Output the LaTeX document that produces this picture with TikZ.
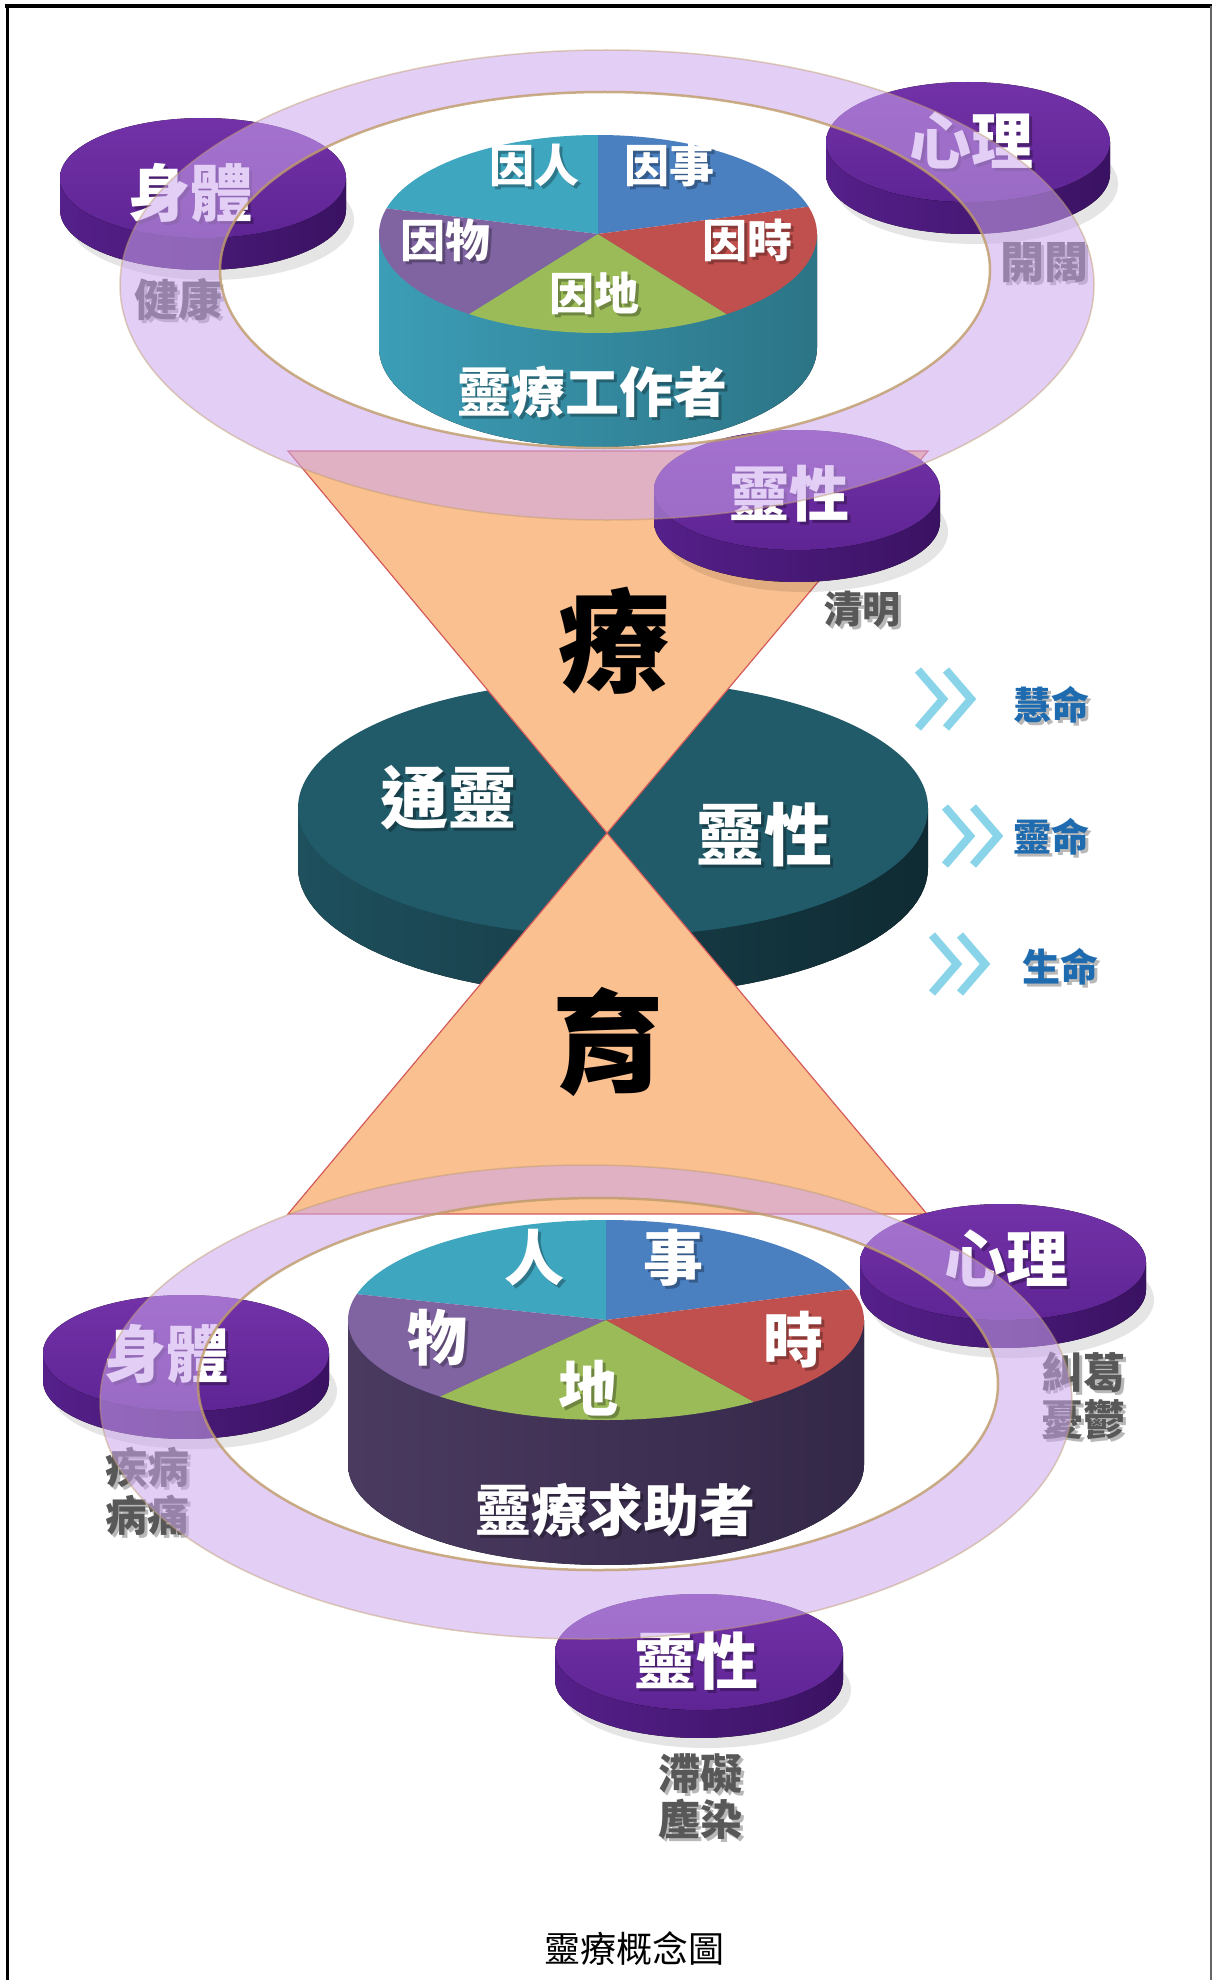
\documentclass[tikz,border=0pt]{standalone}
\usepackage{fontspec}
\newfontfamily\cjk{Noto Sans CJK TC}
\usetikzlibrary{calc}
\definecolor{peach}{HTML}{FAC08F}
\definecolor{hgedge}{HTML}{D55A5A}
\definecolor{ringfill}{HTML}{CCA6EE}
\definecolor{ringedge}{HTML}{BF9B68}
\definecolor{dtopA}{HTML}{7332A8}
\definecolor{dtopB}{HTML}{5E2494}
\definecolor{dsideA}{HTML}{55208A}
\definecolor{dsideB}{HTML}{3A1262}
\definecolor{pAqua}{HTML}{3FA6C0}
\definecolor{pBlue}{HTML}{4A7FC0}
\definecolor{pRed}{HTML}{C0504D}
\definecolor{pGreen}{HTML}{9BBB59}
\definecolor{pPurple}{HTML}{8064A2}
\definecolor{midtop}{HTML}{215A68}
\definecolor{midsideA}{HTML}{1E505D}
\definecolor{midsideB}{HTML}{0F2A32}
\definecolor{graytxt}{HTML}{585858}
\definecolor{bluetxt}{HTML}{1F6BB0}
\definecolor{chevc}{HTML}{89D4E9}
\definecolor{seekA}{HTML}{4A3A60}
\definecolor{seekB}{HTML}{342848}
\tikzset{
  wlab/.style={text=white, inner sep=0pt, font=\cjk\bfseries\fontsize{#1pt}{#1pt}\selectfont},
  glab/.style={text=graytxt, inner sep=0pt, font=\cjk\bfseries\fontsize{#1pt}{#1pt}\selectfont},
  blab/.style={text=bluetxt, inner sep=0pt, font=\cjk\bfseries\fontsize{#1pt}{#1pt}\selectfont},
  klab/.style={text=black, inner sep=0pt, font=\cjk\bfseries\fontsize{#1pt}{#1pt}\selectfont},
  caplab/.style={text=black, inner sep=0pt, font=\cjk\fontsize{#1pt}{#1pt}\selectfont},
  chev/.style={chevc, line width=8pt, miter limit=10},
  hgstyle/.style={fill=peach, draw=hgedge, line width=1.2pt},
  ringstyle/.style={fill=ringfill, fill opacity=0.55, even odd rule},
}
% shadowed text: name, style, size, x, y, text
\newcommand\stext[6]{%
  \node[#2=#3, text=black, opacity=0.28] (#1s) at ({#4+3},{#5+3}) {#6};
  \node[#2=#3] (#1) at (#4,#5) {#6};}
% purple disk: name, cx, cy, a, b, h
\newcommand\pdisk[6]{%
  \coordinate (#1) at (#2,#3);
  \fill[black, opacity=0.10] ({#2+8},{#3+#6+10}) ellipse [x radius=#4, y radius=#5];
  \fill[left color=dsideA, right color=dsideB] ({#2-#4},#3) -- ({#2-#4},{#3+#6})
    -- plot[domain=180:360, samples=50] ({#2+#4*cos(\x)},{#3+#6-#5*sin(\x)})
    -- ({#2+#4},#3) -- cycle;
  \fill[top color=dtopA, bottom color=dtopB] (#2,#3) ellipse [x radius=#4, y radius=#5];}
% pie slice: colour, cx, cy, a, b, t1, t2
\newcommand\pslice[7]{%
  \fill[#1] (#2,#3) -- plot[domain=#6:#7, samples=40] ({#2+#4*cos(\x)},{#3-#5*sin(\x)}) -- cycle;}
\begin{document}
\begin{tikzpicture}[x=1pt,y=-1pt]
\useasboundingbox (0,0) rectangle (1213,1980);
\fill[white] (0,0) rectangle (1213,1980);
% frame
\draw[black, line width=3pt] (7,1980) -- (7,6);
\draw[black, line width=4pt] (5,6) -- (1212,6);
\draw[black!60, line width=2.5pt] (1211,6) -- (1211,1980);

% middle dark disk
\coordinate (mid) at (613,808);
\fill[left color=midsideA, right color=midsideB] (298,808) -- (298,868)
  -- plot[domain=180:360, samples=60] ({613+315*cos(\x)},{868-128*sin(\x)}) -- (928,808) -- cycle;
\fill[midtop] (mid) ellipse [x radius=315, y radius=128];

% hourglass
\coordinate (hgTL) at (288,451);
\coordinate (hgTR) at (928,451);
\coordinate (hgC) at (607,833);
\coordinate (hgBL) at (288,1214);
\coordinate (hgBR) at (927,1214);
\filldraw[hgstyle] (hgTL) -- (hgTR) -- (hgC) -- cycle;
\filldraw[hgstyle] (hgC) -- (hgBR) -- (hgBL) -- cycle;

% top pie cylinder (靈療工作者)
\coordinate (pieT) at (598,234);
\fill[left color=pAqua!95!black, right color=pAqua!70!black] (379,234) -- (379,348)
  -- plot[domain=180:360, samples=60] ({598+219*cos(\x)},{348-99*sin(\x)}) -- (817,234) -- cycle;
\pslice{pBlue}{598}{234}{219}{99}{16}{90}
\pslice{pAqua}{598}{234}{219}{99}{90}{165}
\pslice{pPurple}{598}{234}{219}{99}{165}{234}
\pslice{pGreen}{598}{234}{219}{99}{234}{306}
\pslice{pRed}{598}{234}{219}{99}{306}{376}

% bottom pie cylinder (靈療求助者)
\coordinate (pieB) at (606,1320);
\fill[left color=seekA, right color=seekB] (348,1320) -- (348,1465)
  -- plot[domain=180:360, samples=60] ({606+258*cos(\x)},{1465-100*sin(\x)}) -- (864,1320) -- cycle;
\pslice{pBlue}{606}{1320}{258}{100}{18}{90}
\pslice{pAqua}{606}{1320}{258}{100}{90}{165}
\pslice{pPurple}{606}{1320}{258}{100}{165}{230}
\pslice{pGreen}{606}{1320}{258}{100}{230}{305}
\pslice{pRed}{606}{1320}{258}{100}{305}{378}

% purple disks
\pdisk{dBodyT}{203}{178}{143}{60}{32}
\pdisk{dMindT}{968}{142}{142}{60}{32}
\pdisk{dSpiritT}{797}{490}{143}{60}{32}
\pdisk{dBodyB}{186}{1353}{143}{58}{28}
\pdisk{dMindB}{1003}{1262}{143}{58}{28}
\pdisk{dSpiritB}{699}{1652}{144}{58}{28}

% chevrons
\coordinate (ch1) at (918,670);
\coordinate (ch2) at (945,807);
\coordinate (ch3) at (932,935);
\foreach \c in {ch1,ch2,ch3}{
  \draw[chev] ($(\c)+(0,0)$) -- ($(\c)+(25,29)$) -- ($(\c)+(0,58)$);
  \draw[chev] ($(\c)+(28,0)$) -- ($(\c)+(53,29)$) -- ($(\c)+(28,58)$);
}

% texts: top pie
\stext{tRen}{wlab}{45}{534}{165}{因人}
\stext{tShi}{wlab}{45}{669}{165}{因事}
\stext{tWu}{wlab}{45}{445}{240}{因物}
\stext{tShiT}{wlab}{45}{747}{240}{因時}
\stext{tDi}{wlab}{45}{594}{293}{因地}
\stext{tWorker}{wlab}{54}{592}{392}{靈療工作者}
% top disks
\stext{tBody}{wlab}{62}{190}{193}{身體}
\stext{tMind}{wlab}{62}{971}{140}{心理}
\stext{tSpirit}{wlab}{60}{789}{494}{靈性}
\stext{tHealth}{glab}{44}{178}{300}{健康}
\stext{tOpen}{glab}{44}{1044}{263}{開闊}
\stext{tClear}{glab}{38}{862}{609}{清明}
% hourglass
\node[klab=112] (tLiao) at (614,641) {療};
\node[klab=112] (tYu) at (608,1042) {育};
% middle disk
\stext{tTong}{wlab}{68}{448}{798}{通靈}
\stext{tLing}{wlab}{68}{764}{835}{靈性}
% right column
\stext{tHui}{blab}{38}{1051}{705}{慧命}
\stext{tLingM}{blab}{38}{1051}{837}{靈命}
\stext{tSheng}{blab}{38}{1060}{967}{生命}
% bottom pie
\stext{bRen}{wlab}{60}{534}{1258}{人}
\stext{bShi}{wlab}{60}{673}{1258}{事}
\stext{bWu}{wlab}{60}{437}{1338}{物}
\stext{bShiT}{wlab}{60}{793}{1340}{時}
\stext{bDi}{wlab}{60}{588}{1388}{地}
\stext{bSeeker}{wlab}{56}{615}{1510}{靈療求助者}
% bottom disks
\stext{bBody}{wlab}{62}{166}{1354}{身體}
\stext{bMind}{wlab}{62}{1006}{1258}{心理}
\stext{bSpirit}{wlab}{62}{696}{1661}{靈性}
\stext{bJi}{glab}{42}{147}{1467}{疾病}
\stext{bBing}{glab}{42}{147}{1515}{病痛}
\stext{bJiu}{glab}{42}{1083}{1372}{糾葛}
\stext{bYou}{glab}{42}{1083}{1420}{憂鬱}
\stext{bZhi}{glab}{42}{700}{1774}{滯礙}
\stext{bChen}{glab}{42}{700}{1819}{塵染}

% rings (translucent overlays)
\coordinate (ringT) at (607,285);
\coordinate (ringTi) at (605,270);
\fill[ringstyle] (ringT) ellipse [x radius=487, y radius=235] (ringTi) ellipse [x radius=385, y radius=178];
\draw[ringedge, line width=2.5pt, opacity=0.8] (ringTi) ellipse [x radius=385, y radius=178];
\draw[ringedge, line width=1.5pt, opacity=0.45] (ringT) ellipse [x radius=487, y radius=235];
\coordinate (ringB) at (586,1402);
\coordinate (ringBi) at (598,1384);
\fill[ringstyle] (ringB) ellipse [x radius=486, y radius=237] (ringBi) ellipse [x radius=400, y radius=186];
\draw[ringedge, line width=2.5pt, opacity=0.8] (ringBi) ellipse [x radius=400, y radius=186];
\draw[ringedge, line width=1.5pt, opacity=0.45] (ringB) ellipse [x radius=486, y radius=237];

% caption
\node[caplab=36] (caption) at (634,1949) {靈療概念圖};
\end{tikzpicture}
\end{document}
